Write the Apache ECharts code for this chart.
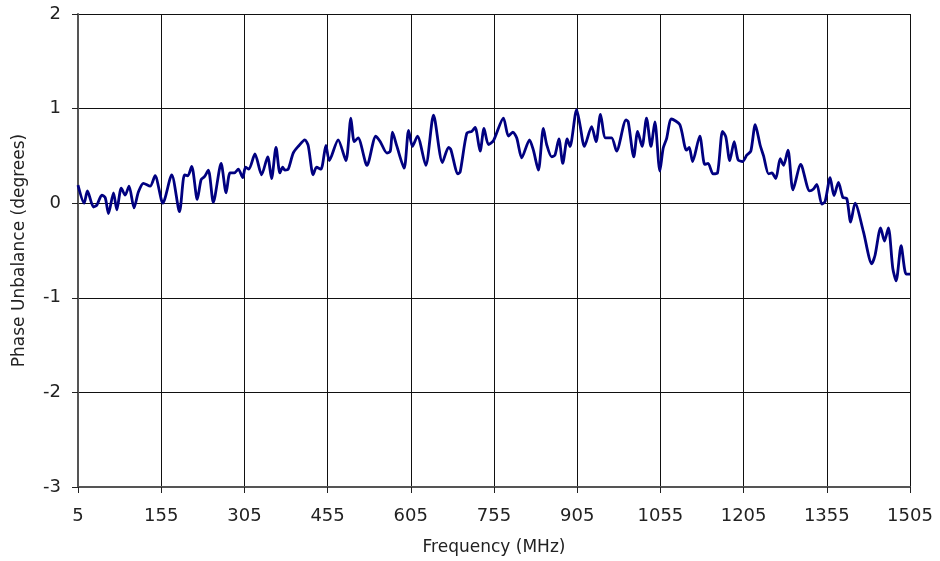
<!DOCTYPE html>
<html>
<head>
<meta charset="utf-8">
<script src="https://cdn.jsdelivr.net/npm/echarts@6/dist/echarts.min.js"></script>
<style>
html,body{margin:0;padding:0;background:#fff;}
#chart{width:940px;height:561px;}
</style>
</head>
<body>
<div id="chart"></div>
<script>
const frequency = [5,16,22,33,39,48,54,60,69,75,83,90,97,106,114,123,135,144,158,174,188,197,203,210,220,227,233,240,249,263,272,279,287,294,302,307,313,324,336,347,354,362,369,374,378,384,393,402,414,420,429,435,443,452,458,474,488,497,503,510,526,542,550,562,568,572,580,593,601,608,617,632,646,662,673,677,690,694,706,715,721,730,737,745,754,772,781,789,796,805,819,826,835,844,850,859,865,872,879,887,892,904,910,918,931,939,947,956,967,976,993,997,1007,1014,1022,1030,1038,1045,1054,1060,1066,1075,1090,1102,1107,1113,1126,1135,1141,1150,1158,1167,1173,1180,1188,1195,1203,1211,1218,1226,1235,1241,1250,1256,1263,1271,1277,1285,1294,1308,1324,1331,1337,1346,1352,1361,1368,1376,1384,1391,1398,1406,1421,1436,1442,1452,1459,1466,1474,1480,1489,1498,1505];
const phaseUnbalance = [0.19,0.0,0.13,-0.04,-0.02,0.085,0.06,-0.11,0.11,-0.07,0.16,0.085,0.18,-0.05,0.12,0.21,0.18,0.29,0.0,0.30,-0.09,0.30,0.29,0.39,0.04,0.25,0.28,0.35,0.01,0.42,0.11,0.32,0.32,0.36,0.27,0.38,0.36,0.52,0.30,0.49,0.26,0.59,0.32,0.38,0.35,0.36,0.53,0.60,0.67,0.61,0.30,0.38,0.36,0.61,0.45,0.67,0.45,0.90,0.65,0.69,0.40,0.71,0.65,0.53,0.55,0.75,0.60,0.37,0.77,0.60,0.71,0.40,0.93,0.43,0.59,0.57,0.31,0.33,0.74,0.76,0.80,0.55,0.79,0.62,0.66,0.90,0.71,0.75,0.69,0.48,0.67,0.56,0.35,0.79,0.62,0.49,0.51,0.68,0.42,0.68,0.60,0.99,0.83,0.60,0.81,0.65,0.94,0.69,0.69,0.55,0.88,0.86,0.49,0.76,0.60,0.90,0.60,0.86,0.34,0.58,0.68,0.89,0.83,0.56,0.59,0.44,0.71,0.41,0.42,0.31,0.32,0.76,0.70,0.45,0.65,0.46,0.44,0.51,0.55,0.83,0.61,0.50,0.31,0.32,0.26,0.47,0.40,0.56,0.14,0.41,0.13,0.15,0.20,-0.01,0.02,0.27,0.08,0.22,0.06,0.05,-0.20,0.0,-0.30,-0.64,-0.55,-0.26,-0.40,-0.26,-0.69,-0.82,-0.45,-0.75,-0.75];
const xTicks = {min: 5, max: 1505, step: 150};
const yTicks = {min: -3, max: 2, step: 1};
const xTitle = 'Frequency (MHz)';
const yTitle = 'Phase Unbalance (degrees)';

const pts = frequency.map((f, i) => [f, phaseUnbalance[i]]);
const font = 'DejaVu Sans, Verdana, sans-serif';
const chart = echarts.init(document.getElementById('chart'), null, {renderer: 'canvas'});
chart.setOption({
  animation: false,
  backgroundColor: '#fff',
  grid: {left: 78, right: 30, top: 14, bottom: 72, show: false},
  xAxis: {
    type: 'value', min: xTicks.min, max: xTicks.max, interval: xTicks.step,
    name: xTitle, nameLocation: 'middle', nameGap: 52,
    nameTextStyle: {fontFamily: font, fontSize: 17, color: '#222'},
    axisLine: {show: true, onZero: false, lineStyle: {color: '#555', width: 2}},
    axisTick: {show: true, length: 6, lineStyle: {color: '#222'}},
    axisLabel: {fontFamily: font, fontSize: 18, color: '#222', margin: 20, showMinLabel: true, showMaxLabel: true,
      formatter: v => String(v)},
    splitLine: {show: true, showMinLine: false, showMaxLine: true, lineStyle: {color: '#111', width: 1}}
  },
  yAxis: {
    type: 'value', min: yTicks.min, max: yTicks.max, interval: yTicks.step,
    name: yTitle, nameLocation: 'middle', nameGap: 50, nameRotate: 90,
    nameTextStyle: {fontFamily: font, fontSize: 17, color: '#222'},
    axisLine: {show: true, onZero: false, lineStyle: {color: '#555', width: 2}},
    axisTick: {show: true, length: 6, lineStyle: {color: '#222'}},
    axisLabel: {fontFamily: font, fontSize: 18, color: '#222', margin: 17, formatter: v => String(v)},
    splitLine: {show: true, showMinLine: false, showMaxLine: true, lineStyle: {color: '#111', width: 1}}
  },
  series: [{
    type: 'line', data: pts, showSymbol: false, smooth: 0.25,
    lineStyle: {color: '#000080', width: 2.8}, clip: true
  }]
});
</script>
</body>
</html>
